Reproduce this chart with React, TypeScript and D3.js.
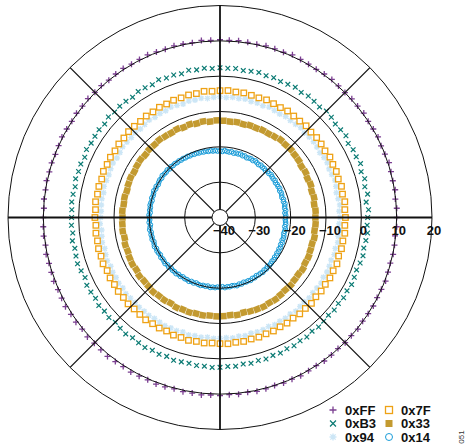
import React from "react";
import * as d3 from "d3";

// Radial axis (dB)
const RING_TICKS = [-40, -30, -20, -10, 0, 10, 20];
const SPOKE_ANGLES = [0, 45, 90, 135, 180, 225, 270, 315];

// Series values in dB, evenly sampled counter‑clockwise from 0° (east)
const S_FF = [
  10.0,10.1,9.9,10.2,10.0,10.1,10.3,10.0,9.9,10.2,10.1,10.0,10.3,10.1,10.2,10.0,10.1,10.3,10.2,10.0,10.1,10.2,10.4,10.1,10.2,10.3,10.1,10.2,10.3,10.2,
  10.3,10.2,10.4,10.1,10.2,10.3,10.1,10.2,10.4,10.2,10.1,10.3,10.2,10.0,10.2,10.1,10.3,10.1,10.2,10.0,10.1,10.2,10.0,9.9,10.1,10.0,10.2,10.0,10.1,9.9,
  10.0,10.1,10.2,10.0,10.3,10.1,10.2,10.4,10.2,10.3,10.5,10.3,10.4,10.2,10.5,10.3,10.4,10.6,10.4,10.3,10.5,10.4,10.3,10.5,10.4,10.2,10.4,10.3,10.5,10.3,
  10.4,10.2,10.3,10.1,10.3,10.2,10.0,10.2,10.1,10.3,10.1,10.0,10.2,10.1,9.9,10.1,10.0,10.2,9.9,10.0,10.1,9.9,10.0,10.2,10.0,9.9,10.1,10.0,9.8,10.1,
];
const S_B3 = [
  1.8,2.1,1.6,2.3,1.9,2.4,2.0,2.6,2.2,2.3,1.9,2.5,2.2,2.0,2.4,2.6,2.1,2.3,2.5,2.2,2.6,2.3,2.1,2.4,2.2,2.5,2.3,2.1,2.4,2.3,
  2.4,2.2,2.5,2.3,2.6,2.1,2.4,2.3,2.7,2.2,2.4,2.5,2.1,2.3,2.4,2.2,2.5,2.0,2.3,2.2,2.1,2.4,1.9,2.2,2.1,2.3,1.9,2.1,2.2,2.0,
  2.0,2.1,1.9,2.3,2.0,2.2,2.4,2.1,1.8,2.3,2.2,2.0,2.4,2.1,2.3,1.9,2.2,2.4,2.1,2.3,2.5,2.2,2.4,2.1,2.5,2.3,2.2,2.4,2.3,2.5,
  2.4,2.2,2.3,2.0,2.2,1.9,2.1,1.8,2.0,1.7,1.9,1.6,1.8,1.4,1.7,1.5,1.3,1.6,1.4,1.7,1.5,1.8,1.6,1.4,1.7,1.9,1.6,1.8,2.0,1.7,
];
const S_94 = [
  -6.0,-6.2,-5.9,-6.1,-6.3,-6.0,-5.8,-6.1,-6.2,-5.9,-6.0,-6.3,-6.1,-5.9,-6.0,-6.2,-5.8,-6.0,-6.1,-5.9,-6.2,-6.0,-5.8,-6.1,-5.9,-6.0,-5.7,-5.9,-5.8,-6.0,
  -5.8,-5.9,-6.1,-5.8,-6.0,-5.9,-6.2,-6.0,-5.8,-6.1,-6.0,-6.2,-5.9,-6.1,-6.3,-6.0,-6.2,-6.1,-5.9,-6.2,-6.3,-6.0,-6.1,-6.3,-6.2,-6.0,-6.3,-6.1,-6.2,-6.3,
  -6.2,-6.0,-6.3,-6.1,-5.9,-6.2,-6.0,-5.8,-6.1,-5.9,-6.0,-5.8,-6.0,-5.7,-5.9,-6.0,-5.8,-5.9,-5.7,-5.9,-5.8,-5.6,-5.8,-5.7,-5.9,-5.6,-5.8,-5.7,-5.9,-5.7,
  -5.8,-5.9,-5.7,-6.0,-5.8,-6.1,-5.9,-6.0,-6.2,-5.9,-6.1,-6.0,-6.2,-5.9,-6.1,-6.3,-6.0,-6.2,-6.1,-5.9,-6.2,-6.0,-6.1,-6.3,-6.0,-6.2,-5.9,-6.1,-6.0,-6.2,
];
const S_7F = [
  -4.5,-4.6,-4.4,-4.7,-4.5,-4.8,-4.6,-4.7,-4.5,-4.8,-4.6,-4.5,-4.7,-4.4,-4.6,-4.5,-4.3,-4.5,-4.4,-4.2,-4.4,-4.3,-4.1,-4.2,-4.0,
  -4.1,-4.2,-4.0,-4.3,-4.2,-4.4,-4.3,-4.5,-4.4,-4.6,-4.5,-4.7,-4.6,-4.5,-4.7,-4.6,-4.8,-4.6,-4.7,-4.5,-4.8,-4.6,-4.7,-4.5,-4.7,
  -4.6,-4.8,-4.6,-4.7,-4.5,-4.6,-4.4,-4.7,-4.5,-4.6,-4.4,-4.5,-4.3,-4.5,-4.4,-4.2,-4.4,-4.3,-4.5,-4.2,-4.3,-4.1,-4.3,-4.2,-4.4,
  -4.3,-4.2,-4.4,-4.3,-4.5,-4.4,-4.6,-4.5,-4.7,-4.6,-4.8,-4.6,-4.7,-4.5,-4.8,-4.6,-4.7,-4.5,-4.6,-4.4,-4.7,-4.5,-4.6,-4.4,-4.6,
];
const S_33 = [
  -13.0,-12.9,-13.1,-12.8,-13.0,-12.7,-12.9,-12.6,-12.8,-12.5,-12.4,-12.2,-12.3,-12.1,-12.4,-12.6,-12.5,-12.7,-12.6,-12.8,-12.6,-12.7,-12.6,
  -12.5,-12.7,-12.4,-12.6,-12.3,-12.5,-12.2,-12.4,-12.3,-12.1,-12.3,-12.2,-12.4,-12.2,-12.3,-12.5,-12.3,-12.4,-12.6,-12.4,-12.5,-12.3,-12.4,
  -12.3,-12.2,-12.4,-12.1,-12.2,-12.0,-11.9,-12.1,-11.8,-12.0,-11.9,-11.7,-11.9,-11.8,-12.0,-11.7,-11.9,-11.8,-12.0,-11.9,-12.1,-12.0,
  -12.1,-12.2,-12.0,-12.3,-12.1,-12.0,-11.9,-12.1,-12.0,-12.2,-12.4,-12.3,-12.5,-12.6,-12.4,-12.7,-12.6,-12.8,-12.9,-12.7,-13.0,-12.9,
];
const S_14 = [
  -21.5,-21.4,-21.6,-21.3,-21.5,-21.4,-21.2,-21.5,-21.3,-21.6,-21.4,-21.3,-21.5,-21.2,-21.4,-21.3,-21.5,-21.2,-21.4,-21.3,-21.1,-21.4,-21.2,-21.5,-21.3,-21.4,-21.2,-21.5,-21.3,-21.1,-21.4,-21.2,-21.3,-21.5,-21.2,-21.4,-21.1,-21.3,-21.2,-21.4,-21.1,-21.3,-21.2,-21.0,-21.3,
  -21.1,-21.2,-21.0,-21.1,-20.9,-21.0,-20.8,-20.9,-20.7,-20.8,-20.6,-20.7,-20.5,-20.6,-20.4,-20.5,-20.3,-20.4,-20.2,-20.3,-20.1,-20.2,-20.0,-20.2,-19.9,-20.1,-20.0,-19.8,-20.1,-19.9,-20.0,-20.2,-19.9,-20.1,-19.8,-20.0,-20.1,-19.9,-20.2,-20.0,-19.9,-20.1,-20.0,-20.2,-19.9,
  -20.0,-20.1,-19.9,-20.2,-20.0,-19.8,-20.1,-19.9,-20.0,-19.8,-20.1,-19.9,-19.7,-20.0,-19.8,-19.9,-20.1,-19.8,-20.0,-19.9,-19.7,-20.0,-19.8,-20.1,-19.9,-20.0,-19.8,-20.1,-19.9,-20.2,-20.0,-20.1,-19.9,-20.2,-20.0,-20.3,-20.1,-20.0,-20.2,-20.1,-20.3,-20.0,-20.2,-20.1,-20.3,
  -20.2,-20.4,-20.1,-20.3,-20.2,-20.4,-20.3,-20.1,-20.4,-20.2,-20.5,-20.3,-20.4,-20.2,-20.5,-20.3,-20.6,-20.4,-20.5,-20.3,-20.6,-20.4,-20.7,-20.5,-20.6,-20.8,-20.6,-20.9,-20.7,-21.0,-20.8,-21.1,-20.9,-21.2,-21.0,-21.3,-21.1,-21.2,-21.4,-21.3,-21.2,-21.5,-21.3,-21.4,-21.5,
];

const SERIES_NAMES = ["0xFF", "0xB3", "0x94", "0x7F", "0x33", "0x14"];

const W = 469, H = 448;
const CX = 220, CY = 217.5, R = 212, HOLE = 8;
const FONT = "'Liberation Sans', Arial, Helvetica, sans-serif";

type Kind = "plus" | "cross" | "star" | "osq" | "fsq" | "ocirc";
const STYLES: { kind: Kind; color: string }[] = [
  { kind: "plus", color: "#7b3f91" },
  { kind: "cross", color: "#0a7a73" },
  { kind: "star", color: "#cce6f6" },
  { kind: "osq", color: "#eea215" },
  { kind: "fsq", color: "#c39a30" },
  { kind: "ocirc", color: "#1b9dd9" },
];

function Marker({ kind, color, x, y, s, rot = 0 }: { kind: Kind; color: string; x: number; y: number; s: number; rot?: number }) {
  const h = s / 2;
  switch (kind) {
    case "plus":
      return <path d={`M${x - h},${y}H${x + h}M${x},${y - h}V${y + h}`} stroke={color} strokeWidth={1.3} fill="none" />;
    case "cross":
      return <path d={`M${x - h * 0.85},${y - h * 0.85}L${x + h * 0.85},${y + h * 0.85}M${x - h * 0.85},${y + h * 0.85}L${x + h * 0.85},${y - h * 0.85}`} stroke={color} strokeWidth={1.2} fill="none" />;
    case "star": {
      const k = h * 0.75;
      return <path d={`M${x - h},${y}H${x + h}M${x},${y - h}V${y + h}M${x - k},${y - k}L${x + k},${y + k}M${x - k},${y + k}L${x + k},${y - k}`} stroke={color} strokeWidth={1.4} fill="none" />;
    }
    case "osq":
      return <rect x={x - h} y={y - h} width={s} height={s} stroke={color} strokeWidth={1.3} fill="white" />;
    case "fsq":
      return <rect x={x - h} y={y - h} width={s} height={s} fill={color} transform={rot ? `rotate(${rot} ${x} ${y})` : undefined} />;
    case "ocirc":
      return <circle cx={x} cy={y} r={h} stroke={color} strokeWidth={1} fill="none" />;
  }
}

export default function App() {
  const r = d3.scaleLinear().domain([-40, 20]).range([0, R]);
  const all = [S_FF, S_B3, S_94, S_7F, S_33, S_14];
  const sizes = [6, 5.5, 6, 5.5, 6.5, 4.6];

  const pt = (deg: number, rad: number) => {
    const a = (deg * Math.PI) / 180;
    return [CX + rad * Math.cos(a), CY - rad * Math.sin(a)];
  };

  const legendRows = [
    [0, 3],
    [1, 4],
    [2, 5],
  ];

  return (
    <svg width={W} height={H} style={{ position: "absolute", left: 0, top: 0, background: "white" }}>
      {/* data */}
      {all.map((vals, si) => {
        const step = 360 / vals.length;
        return (
          <g key={si}>
            {vals.map((v, i) => {
              const ang = i * step;
              const [x, y] = pt(ang, r(v));
              return <Marker key={i} kind={STYLES[si].kind} color={STYLES[si].color} x={x} y={y} s={sizes[si]} rot={-ang} />;
            })}
          </g>
        );
      })}
      {/* grid */}
      {RING_TICKS.filter((t) => t > -40).map((t) => (
        <circle key={t} cx={CX} cy={CY} r={r(t)} fill="none" stroke="#111" strokeWidth={1} />
      ))}
      {SPOKE_ANGLES.map((a) => {
        const [x1, y1] = pt(a, HOLE);
        const [x2, y2] = pt(a, R);
        const w = a % 90 === 0 ? 1.8 : 1.3;
        return <line key={a} x1={x1} y1={y1} x2={x2} y2={y2} stroke="#111" strokeWidth={w} />;
      })}
      <circle cx={CX} cy={CY} r={HOLE} fill="white" stroke="#111" strokeWidth={1} />
      {/* tick labels */}
      {RING_TICKS.map((t) => (
        <text
          key={t}
          x={CX + r(t) + (t < 0 ? 4 : 2)}
          y={CY + 17.5}
          textAnchor="middle"
          fontFamily={FONT}
          fontWeight="bold"
          fontSize={13}
          fill="#111"
        >
          {t < 0 ? `\u2212${-t}` : `${t}`}
        </text>
      ))}
      {/* legend */}
      {legendRows.map((row, ri) =>
        row.map((si, ci) => {
          const mx = ci === 0 ? 333 : 389;
          const my = 410 + ri * 13.5;
          return (
            <g key={`${ri}-${ci}`}>
              <Marker kind={STYLES[si].kind} color={STYLES[si].color} x={mx} y={my} s={7} />
              <text x={mx + 12} y={my + 4.5} fontFamily={FONT} fontWeight="bold" fontSize={13} fill="#111">
                {SERIES_NAMES[si]}
              </text>
            </g>
          );
        })
      )}
      <text x={464} y={437} transform="rotate(-90 464 437)" textAnchor="middle" fontFamily={FONT} fontSize={8} fill="#333">
        051
      </text>
    </svg>
  );
}
